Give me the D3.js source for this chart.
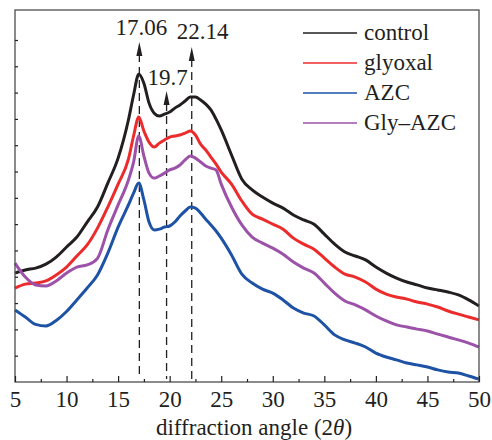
<!DOCTYPE html>
<html>
<head>
<meta charset="utf-8">
<script src="https://cdn.jsdelivr.net/npm/d3@7"></script>
<style>
  body { margin:0; background:#fff; }
</style>
</head>
<body>
<svg></svg>
<script>
// 2theta values (degrees)
var angles = [5,6,7,8,9,10,11,12,13,14,15,16,16.5,17,17.5,18,18.5,19,19.5,20,20.5,21,21.5,22,22.5,23,23.5,24,24.5,25,
              26,27,28,29,30,31,32,33,34,35,36,37,38,39,40,41,42,43,44,45,46,47,48,49,50];

// intensities (a.u.)
var control = [414,426,433,448,475,513,551,608,665,756,851,996,1091,1170,1136,1060,1022,1011,1018,1026,1041,1053,1068,1083,1083,1072,1056,1034,999,958,
               863,771,730,703,680,661,635,616,600,562,524,494,479,464,437,414,395,380,369,357,350,342,331,312,289];
var glyoxal = [357,372,376,384,407,437,479,521,585,665,752,847,935,1007,954,912,893,908,920,931,935,939,946,954,939,904,882,855,828,798,
               752,688,638,619,600,581,547,524,505,471,437,410,399,380,353,334,323,315,304,296,285,270,258,247,236];
var azc     = [274,247,219,213,234,268,312,357,407,490,589,673,718,756,692,608,578,581,589,593,608,631,650,665,661,642,619,597,574,547,
               483,410,376,353,338,312,281,262,251,217,179,160,148,133,110,95,84,72,65,57,46,38,34,23,11];
var glyAzc  = [452,399,369,365,384,414,437,445,470,578,673,768,836,935,859,794,775,783,794,806,813,825,844,859,851,836,821,813,806,752,
               665,597,551,528,509,486,456,433,414,376,338,308,293,274,251,232,217,209,201,194,182,171,160,148,133];

var seriesNames = ["control","glyoxal","AZC","Gly\u2013AZC"];
var seriesColors = ["#231f20","#ec2c2c","#1d52a4","#9b52a8"];

var peaks = [17.06,19.7,22.14];
var peakLabels = ["17.06","19.7","22.14"];
var peakTips = [1292,1106,1273];

var xTicks = [5,10,15,20,25,30,35,40,45,50];

var serif = "'Liberation Serif'";
var fontSize = 23;

var screen = {width:492,height:440};
var margins = {top:10,bottom:58,left:15,right:13};
var width = screen.width - margins.left - margins.right;
var height = screen.height - margins.top - margins.bottom;

var svg = d3.select("svg")
            .attr("width",screen.width)
            .attr("height",screen.height);

var xScale = d3.scaleLinear().domain([5,50]).range([0,width]);
var yScale = d3.scaleLinear().domain([0,1414]).range([height,0]);

var plotLand = svg.append("g")
                  .attr("transform","translate("+margins.left+","+margins.top+")");

// dashed peak markers
var markers = plotLand.append("g").classed("markers",true)
  .selectAll("g")
  .data(peaks)
  .enter()
  .append("g");

markers.append("line")
  .attr("x1",function(d){return xScale(d);})
  .attr("x2",function(d){return xScale(d);})
  .attr("y1",function(d,i){return yScale(peakTips[i])+12;})
  .attr("y2",height-3)
  .attr("stroke","#231f20")
  .attr("stroke-width",1.3)
  .attr("stroke-dasharray","8,5");

markers.append("path")
  .attr("d",function(d,i)
  {
    var x = xScale(d), y = yScale(peakTips[i]);
    return "M"+x+","+y+"L"+(x-3)+","+(y+14)+"L"+(x+3)+","+(y+14)+"Z";
  })
  .attr("fill","#231f20");

markers.append("text")
  .attr("x",function(d,i){return xScale(d)+[2,1,11][i];})
  .attr("y",function(d,i){return yScale(peakTips[i])-[7,6,8][i];})
  .attr("text-anchor","middle")
  .attr("font-size",fontSize)
  .attr("fill","#231f20")
  .style("font-family",serif)
  .text(function(d,i){return peakLabels[i];});

// the lines
var allSeries = [control,glyoxal,glyAzc,azc];
var allColors = [seriesColors[0],seriesColors[1],seriesColors[3],seriesColors[2]];

var drawLine = d3.line()
  .x(function(d,i){return xScale(angles[i]);})
  .y(function(d){return yScale(d);})
  .curve(d3.curveMonotoneX);

plotLand.append("g").classed("lines",true)
  .selectAll("path")
  .data(allSeries)
  .enter()
  .append("path")
  .attr("d",drawLine)
  .attr("fill","none")
  .attr("stroke",function(d,i){return allColors[i];})
  .attr("stroke-width",3)
  .attr("stroke-linejoin","round");

// frame
plotLand.append("rect")
  .attr("x",0).attr("y",0)
  .attr("width",width).attr("height",height)
  .attr("fill","none")
  .attr("stroke","#4d4d4d")
  .attr("stroke-width",1.3);

// x axis, ticks inside
var xAxis = d3.axisBottom(xScale)
  .tickValues(xTicks)
  .tickSize(-6)
  .tickPadding(10)
  .tickFormat(d3.format("d"));

var xAxisG = plotLand.append("g").classed("xAxis",true)
  .attr("transform","translate(0,"+height+")")
  .call(xAxis);

xAxisG.selectAll("text")
  .attr("font-size",fontSize)
  .attr("fill","#231f20")
  .style("font-family",serif)
  .attr("dy",null)
  .attr("y",25);

var xMinor = d3.axisBottom(xScale)
  .tickValues(d3.range(7.5,50,5))
  .tickSize(-3)
  .tickFormat("");

plotLand.append("g")
  .attr("transform","translate(0,"+height+")")
  .call(xMinor);

// y axis, ticks only
var yAxis = d3.axisLeft(yScale)
  .tickValues(d3.range(100,1400,100))
  .tickSize(-3)
  .tickFormat("");

plotLand.append("g").classed("yAxis",true)
  .call(yAxis);

plotLand.selectAll(".domain").remove();
plotLand.selectAll(".tick line").attr("stroke","#231f20").attr("stroke-width",1.2);

// axis title
var title = svg.append("text")
  .attr("x",254)
  .attr("y",435)
  .attr("text-anchor","middle")
  .attr("font-size",fontSize)
  .attr("fill","#231f20")
  .style("font-family",serif);
title.append("tspan").text("diffraction angle (2");
title.append("tspan").attr("font-style","italic").text("\u03b8");
title.append("tspan").text(")");

// legend
var legend = svg.append("g")
  .classed("legend",true)
  .attr("transform","translate(303,33)");

var legendLines = legend.selectAll("g")
  .data(seriesNames)
  .enter()
  .append("g")
  .attr("transform",function(d,i){return "translate(0,"+(i*30)+")";});

legendLines.append("line")
  .attr("x1",0).attr("x2",54)
  .attr("y1",0).attr("y2",0)
  .attr("stroke",function(d,i){return seriesColors[i];})
  .attr("stroke-width",1.3);

legendLines.append("text")
  .attr("x",61)
  .attr("y",7)
  .attr("font-size",fontSize)
  .attr("fill","#231f20")
  .style("font-family",serif)
  .text(function(d){return d;});
</script>
</body>
</html>
